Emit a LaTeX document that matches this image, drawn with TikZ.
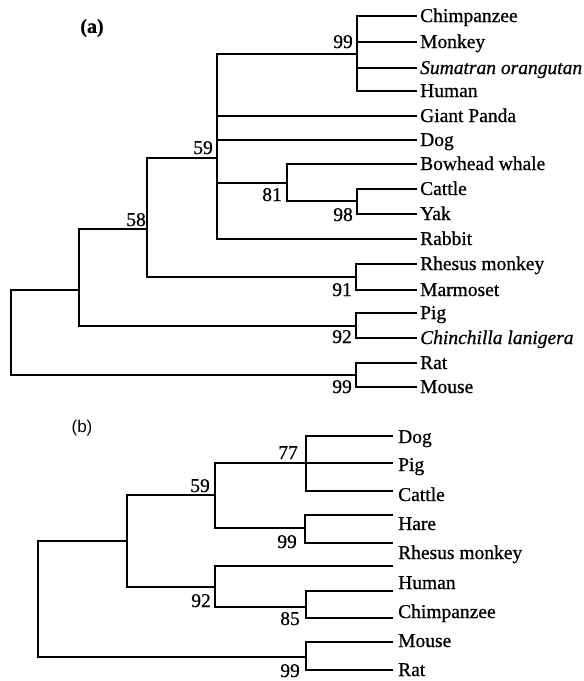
\documentclass[tikz,border=0pt]{standalone}
\usepackage{fontspec}
\setmainfont{Liberation Serif}[FakeBold=0.7,ItalicFeatures={FakeBold=0.7}]
\setsansfont{Liberation Sans}
\begin{document}
\begin{tikzpicture}[x=1pt,y=-1pt,
  br/.style={line width=2pt, line join=miter},
  thk/.style={line width=2.8pt, line join=miter},
  taxon/.style={anchor=base west, inner sep=0pt, font=\fontsize{19.5}{20}\selectfont},
  bs/.style={anchor=base east, inner sep=0pt, font=\fontsize{19.5}{20}\selectfont},
  panel/.style={inner sep=0pt}]
\useasboundingbox (0,0) rectangle (584,681);
\fill[white] (0,0) rectangle (584,681);

% ---------- panel (a) ----------
\node[panel, font=\fontsize{20}{22}\selectfont\bfseries] (pa) at (92,28) {(a)};

\coordinate (a1) at (417,16);
\coordinate (a2) at (417,42);
\coordinate (a3) at (417,68);
\coordinate (a4) at (417,91);
\coordinate (a5) at (417,116);
\coordinate (a6) at (417,140);
\coordinate (a7) at (417,164);
\coordinate (a8) at (417,189);
\coordinate (a9) at (417,214);
\coordinate (a10) at (417,239);
\coordinate (a11) at (417,264);
\coordinate (a12) at (417,290);
\coordinate (a13) at (417,313);
\coordinate (a14) at (417,338);
\coordinate (a15) at (417,363);
\coordinate (a16) at (417,387);

\coordinate (aP) at (357,54);
\coordinate (a59) at (217,158);
\coordinate (a81) at (287,183);
\coordinate (a98) at (357,201);
\coordinate (a58) at (147,229);
\coordinate (a91) at (356,277);
\coordinate (aX) at (79,290);
\coordinate (a92) at (356,326);
\coordinate (aR) at (11,330);
\coordinate (a99) at (356,375);

\draw[br] (aP) |- (a1);
\draw[br] (aP) |- (a2);
\draw[br] (aP) |- (a3);
\draw[br] (aP) |- (a4);
\draw[br] (a59) |- (aP);
\draw[br] (a59) |- (a5);
\draw[br] (a59) |- (a6);
\draw[br] (a59) |- (a81);
\draw[br] (a59) |- (a10);
\draw[br] (a81) |- (a7);
\draw[br] (a81) |- (a98);
\draw[br] (a98) |- (a8);
\draw[br] (a98) |- (a9);
\draw[br] (a58) |- (a59);
\draw[thk] (a58) |- (a91);
\draw[br] (a91) |- (a11);
\draw[br] (a91) |- (a12);
\draw[br] (aX) |- (a58);
\draw[br] (aX) |- (a92);
\draw[br] (a92) |- (a13);
\draw[br] (a92) |- (a14);
\draw[br] (aR) |- (aX);
\draw[br] (aR) |- (a99);
\draw[br] (a99) |- (a15);
\draw[thk] (a99) |- (a16);

\node[taxon] (ta1) at (420,22) {Chimpanzee};
\node[taxon] (ta2) at (420,48) {Monkey};
\node[taxon] (ta3) at (420,74) {\itshape Sumatran orangutan};
\node[taxon] (ta4) at (420,97) {Human};
\node[taxon] (ta5) at (420,122) {Giant Panda};
\node[taxon] (ta6) at (420,146) {Dog};
\node[taxon] (ta7) at (420,170) {Bowhead whale};
\node[taxon] (ta8) at (420,195) {Cattle};
\node[taxon] (ta9) at (420,220) {Yak};
\node[taxon] (ta10) at (420,245) {Rabbit};
\node[taxon] (ta11) at (420,270) {Rhesus monkey};
\node[taxon] (ta12) at (420,296) {Marmoset};
\node[taxon] (ta13) at (420,319) {Pig};
\node[taxon] (ta14) at (420,344) {\itshape Chinchilla lanigera};
\node[taxon] (ta15) at (420,369) {Rat};
\node[taxon] (ta16) at (420,393) {Mouse};

\node[bs] (sa1) at (353,48) {99};
\node[bs] (sa2) at (213,154) {59};
\node[bs] (sa3) at (146,226) {58};
\node[bs] (sa4) at (282,201) {81};
\node[bs] (sa5) at (353,221) {98};
\node[bs] (sa6) at (352,296) {91};
\node[bs] (sa7) at (352,343) {92};
\node[bs] (sa8) at (352,393) {99};

% ---------- panel (b) ----------
\node[panel, font=\fontsize{17}{19}\selectfont\sffamily] (pb) at (82,428) {(b)};

\coordinate (b1) at (393,436);
\coordinate (b2) at (393,463);
\coordinate (b3) at (393,491);
\coordinate (b4) at (393,515);
\coordinate (b5) at (393,543);
\coordinate (b6) at (393,566);
\coordinate (b7) at (393,591);
\coordinate (b8) at (393,618);
\coordinate (b9) at (393,642);
\coordinate (b10) at (393,670);

\coordinate (bR) at (38,600);
\coordinate (bU) at (127,541);
\coordinate (b59) at (215,495);
\coordinate (b77) at (306,463);
\coordinate (bH) at (305,528);
\coordinate (b92) at (215,587);
\coordinate (b85) at (306,607);
\coordinate (b99) at (306,657);

\draw[br] (bR) |- (bU);
\draw[br] (bR) |- (b99);
\draw[br] (bU) |- (b59);
\draw[br] (bU) |- (b92);
\draw[thk] (b59) |- (b2);
\draw[br] (b59) |- (bH);
\draw[br] (b77) |- (b1);
\draw[thk] (b77) |- (b3);
\draw[br] (bH) |- (b4);
\draw[br] (bH) |- (b5);
\draw[br] (b92) |- (b6);
\draw[br] (b92) |- (b85);
\draw[br] (b85) |- (b7);
\draw[br] (b85) |- (b8);
\draw[br] (b99) |- (b9);
\draw[br] (b99) |- (b10);

\node[taxon] (tb1) at (398,443) {Dog};
\node[taxon] (tb2) at (398,471) {Pig};
\node[taxon] (tb3) at (398,501) {Cattle};
\node[taxon] (tb4) at (398,530) {Hare};
\node[taxon] (tb5) at (398,559) {Rhesus monkey};
\node[taxon] (tb6) at (398,589) {Human};
\node[taxon] (tb7) at (398,618) {Chimpanzee};
\node[taxon] (tb8) at (398,647) {Mouse};
\node[taxon] (tb9) at (398,676) {Rat};

\node[bs] (sb1) at (298,459) {77};
\node[bs] (sb2) at (210,492) {59};
\node[bs] (sb3) at (297,548) {99};
\node[bs] (sb4) at (211,607) {92};
\node[bs] (sb5) at (300,625) {85};
\node[bs] (sb6) at (300,677) {99};
\end{tikzpicture}
\end{document}
